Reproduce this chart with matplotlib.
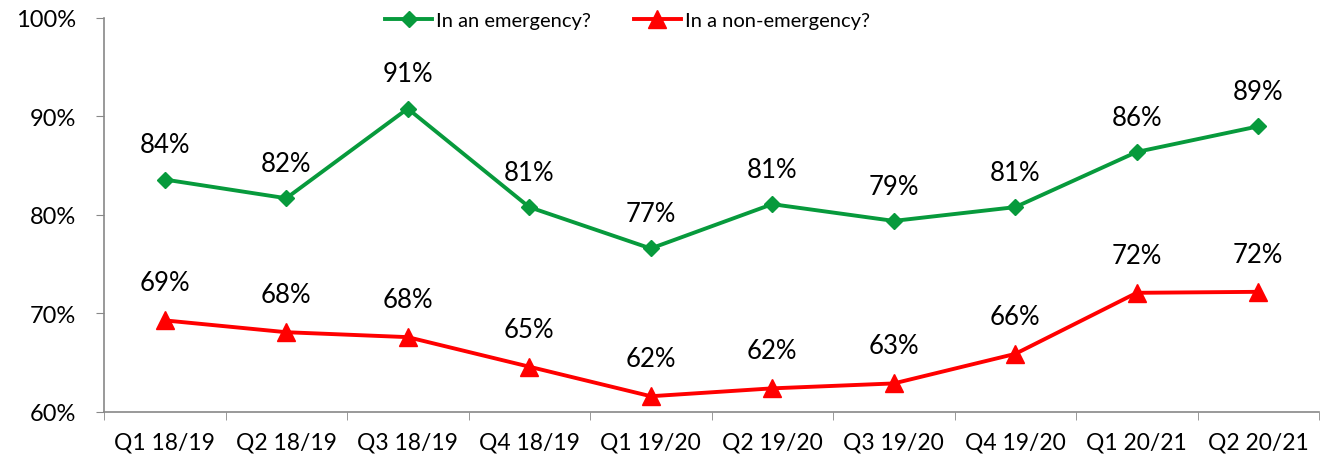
import matplotlib
matplotlib.use("Agg")
import matplotlib.pyplot as plt

categories = ["Q1 18/19", "Q2 18/19", "Q3 18/19", "Q4 18/19", "Q1 19/20",
              "Q2 19/20", "Q3 19/20", "Q4 19/20", "Q1 20/21", "Q2 20/21"]
emergency = [83.6, 81.7, 90.8, 80.8, 76.6, 81.1, 79.4, 80.8, 86.4, 89.0]
non_emergency = [69.3, 68.1, 67.6, 64.6, 61.6, 62.4, 62.9, 65.9, 72.1, 72.2]
yticks = [60, 70, 80, 90, 100]

plt.rcParams['font.family'] = ['Lato', 'DejaVu Sans']

fig = plt.figure(figsize=(13.27, 4.6), dpi=100)
ax = fig.add_axes([104/1327, 1-413/460, (1319-104)/1327, (413-19)/460])

x = list(range(len(categories)))
green = "#079A3C"
red = "#FF0000"
ax.plot(x, emergency, color=green, lw=2.8, marker="D", ms=8, label="In an emergency?")
ax.plot(x, non_emergency, color=red, lw=2.8, marker="^", ms=13, label="In a non-emergency?")

for xi, v in zip(x, emergency):
    ax.annotate(f"{round(v)}%", (xi, v), xytext=(0, 25), textcoords="offset points",
                ha="center", va="center", fontsize=18.5)
for xi, v in zip(x, non_emergency):
    ax.annotate(f"{round(v)}%", (xi, v), xytext=(0, 27), textcoords="offset points",
                ha="center", va="center", fontsize=18.5)

ax.set_xlim(-0.5, len(categories) - 0.5)
ax.set_ylim(60, 100)
ax.set_yticks(yticks)
ax.set_yticklabels([f"{t}%" for t in yticks], fontsize=17)
ax.set_xticks(x)
ax.set_xticklabels(categories, fontsize=16.5)
ax.set_xticks([i - 0.5 for i in range(len(categories) + 1)], minor=True)
ax.tick_params(axis="x", which="major", length=0, pad=14)
ax.tick_params(axis="x", which="minor", length=6, color="#888888", direction="out")
ax.tick_params(axis="y", length=6, color="#888888", direction="out", pad=14)

for s in ["top", "right"]:
    ax.spines[s].set_visible(False)
for s in ["left", "bottom"]:
    ax.spines[s].set_color("#888888")
    ax.spines[s].set_linewidth(1.2)

leg = fig.legend(loc="upper left", bbox_to_anchor=(385/1327, 1 - 13/460), ncol=2, frameon=False,
                 fontsize=14.5, handlelength=2.35, handletextpad=0.2, columnspacing=2.1,
                 borderpad=0, borderaxespad=0)

fig.savefig("out.png", dpi=100)
